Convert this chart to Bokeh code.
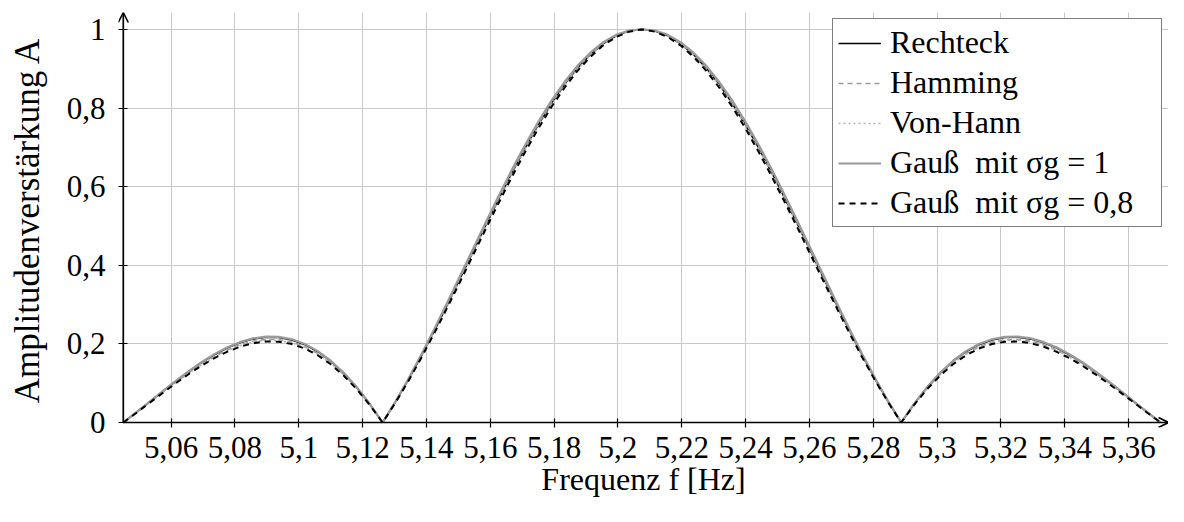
from bokeh.plotting import figure
from bokeh.models import (Range1d, FixedTicker, CustomJSTickFormatter, Legend,
                          LegendItem, Arrow, OpenHead)
from bokeh.embed import file_html
from bokeh.resources import INLINE

# ---------------- data ----------------
freq = [5.04500, 5.04906, 5.05313, 5.05719, 5.06125, 5.06531, 5.06938, 5.07344,
        5.07750, 5.08156, 5.08563, 5.08969, 5.09375, 5.09781, 5.10188, 5.10594,
        5.11000, 5.11406, 5.11813, 5.12219, 5.12625, 5.13031, 5.13438, 5.13844,
        5.14250, 5.14656, 5.15063, 5.15469, 5.15875, 5.16281, 5.16688, 5.17094,
        5.17500, 5.17906, 5.18313, 5.18719, 5.19125, 5.19531, 5.19938, 5.20344,
        5.20750, 5.21156, 5.21563, 5.21969, 5.22375, 5.22781, 5.23188, 5.23594,
        5.24000, 5.24406, 5.24813, 5.25219, 5.25625, 5.26031, 5.26438, 5.26844,
        5.27250, 5.27656, 5.28063, 5.28469, 5.28875, 5.29281, 5.29688, 5.30094,
        5.30500, 5.30906, 5.31313, 5.31719, 5.32125, 5.32531, 5.32938, 5.33344,
        5.33750, 5.34156, 5.34563, 5.34969, 5.35375, 5.35781, 5.36188, 5.36594,
        5.37000]

rechteck = [
    0.0, 0.0255, 0.0518, 0.0781, 0.1039, 0.1286, 0.1515, 0.1719, 0.1892, 0.2028,
    0.2122, 0.2168, 0.2162, 0.2101, 0.1981, 0.1801, 0.1559, 0.1257, 0.0894, 0.0474,
    0.0, 0.0524, 0.1093, 0.1700, 0.2339, 0.3001, 0.3679, 0.4363, 0.5046, 0.5716,
    0.6366, 0.6986, 0.7568, 0.8103, 0.8584, 0.9003, 0.9355, 0.9634, 0.9836, 0.9959,
    1.0,
    0.9959, 0.9836, 0.9634, 0.9355, 0.9003, 0.8584, 0.8103, 0.7568, 0.6986, 0.6366,
    0.5716, 0.5046, 0.4363, 0.3679, 0.3001, 0.2339, 0.1700, 0.1093, 0.0524, 0.0,
    0.0474, 0.0894, 0.1257, 0.1559, 0.1801, 0.1981, 0.2101, 0.2162, 0.2168, 0.2122,
    0.2028, 0.1892, 0.1719, 0.1515, 0.1286, 0.1039, 0.0781, 0.0518, 0.0255, 0.0]

hamming = [
    0.0, 0.0249, 0.0505, 0.0762, 0.1013, 0.1254, 0.1477, 0.1676, 0.1845, 0.1977,
    0.2069, 0.2114, 0.2108, 0.2048, 0.1931, 0.1756, 0.1520, 0.1226, 0.0872, 0.0462,
    0.0, 0.0527, 0.1099, 0.1709, 0.2351, 0.3015, 0.3695, 0.4381, 0.5065, 0.5736,
    0.6386, 0.7006, 0.7587, 0.8121, 0.8600, 0.9017, 0.9367, 0.9643, 0.9842, 0.9962,
    1.0,
    0.9962, 0.9842, 0.9643, 0.9367, 0.9017, 0.8600, 0.8121, 0.7587, 0.7006, 0.6386,
    0.5736, 0.5065, 0.4381, 0.3695, 0.3015, 0.2351, 0.1709, 0.1099, 0.0527, 0.0,
    0.0462, 0.0872, 0.1226, 0.1520, 0.1756, 0.1931, 0.2048, 0.2108, 0.2114, 0.2069,
    0.1977, 0.1845, 0.1676, 0.1477, 0.1254, 0.1013, 0.0762, 0.0505, 0.0249, 0.0]

von_hann = [
    0.0, 0.0246, 0.0500, 0.0754, 0.1003, 0.1241, 0.1462, 0.1659, 0.1826, 0.1957,
    0.2048, 0.2092, 0.2086, 0.2027, 0.1912, 0.1738, 0.1504, 0.1213, 0.0863, 0.0457,
    0.0, 0.0519, 0.1084, 0.1686, 0.2321, 0.2980, 0.3655, 0.4336, 0.5017, 0.5686,
    0.6336, 0.6956, 0.7539, 0.8076, 0.8560, 0.8982, 0.9337, 0.9620, 0.9827, 0.9954,
    1.0,
    0.9954, 0.9827, 0.9620, 0.9337, 0.8982, 0.8560, 0.8076, 0.7539, 0.6956, 0.6336,
    0.5686, 0.5017, 0.4336, 0.3655, 0.2980, 0.2321, 0.1686, 0.1084, 0.0519, 0.0,
    0.0457, 0.0863, 0.1213, 0.1504, 0.1738, 0.1912, 0.2027, 0.2086, 0.2092, 0.2048,
    0.1957, 0.1826, 0.1659, 0.1462, 0.1241, 0.1003, 0.0754, 0.0500, 0.0246, 0.0]

gauss_1 = [
    0.0, 0.0257, 0.0522, 0.0787, 0.1047, 0.1296, 0.1527, 0.1733, 0.1907, 0.2044,
    0.2139, 0.2185, 0.2179, 0.2118, 0.1997, 0.1815, 0.1571, 0.1267, 0.0901, 0.0478,
    0.0, 0.0537, 0.1118, 0.1736, 0.2386, 0.3058, 0.3744, 0.4434, 0.5122, 0.5795,
    0.6446, 0.7065, 0.7644, 0.8174, 0.8649, 0.9060, 0.9402, 0.9670, 0.9861, 0.9972,
    1.0,
    0.9972, 0.9861, 0.9670, 0.9402, 0.9060, 0.8649, 0.8174, 0.7644, 0.7065, 0.6446,
    0.5795, 0.5122, 0.4434, 0.3744, 0.3058, 0.2386, 0.1736, 0.1118, 0.0537, 0.0,
    0.0478, 0.0901, 0.1267, 0.1571, 0.1815, 0.1997, 0.2118, 0.2179, 0.2185, 0.2139,
    0.2044, 0.1907, 0.1733, 0.1527, 0.1296, 0.1047, 0.0787, 0.0522, 0.0257, 0.0]

gauss_08 = [
    0.0, 0.0242, 0.0492, 0.0742, 0.0987, 0.1222, 0.1439, 0.1633, 0.1797, 0.1927,
    0.2016, 0.2060, 0.2054, 0.1996, 0.1882, 0.1711, 0.1481, 0.1194, 0.0849, 0.0450,
    0.0, 0.0508, 0.1062, 0.1655, 0.2280, 0.2930, 0.3598, 0.4274, 0.4951, 0.5617,
    0.6266, 0.6887, 0.7473, 0.8014, 0.8503, 0.8932, 0.9296, 0.9589, 0.9805, 0.9943,
    1.0,
    0.9943, 0.9805, 0.9589, 0.9296, 0.8932, 0.8503, 0.8014, 0.7473, 0.6887, 0.6266,
    0.5617, 0.4951, 0.4274, 0.3598, 0.2930, 0.2280, 0.1655, 0.1062, 0.0508, 0.0,
    0.0450, 0.0849, 0.1194, 0.1481, 0.1711, 0.1882, 0.1996, 0.2054, 0.2060, 0.2016,
    0.1927, 0.1797, 0.1633, 0.1439, 0.1222, 0.0987, 0.0742, 0.0492, 0.0242, 0.0]

x_ticks = [5.06, 5.08, 5.10, 5.12, 5.14, 5.16, 5.18, 5.20, 5.22, 5.24, 5.26, 5.28,
           5.30, 5.32, 5.34, 5.36]
y_ticks = [0.0, 0.2, 0.4, 0.6, 0.8, 1.0]

series_labels = ["Rechteck", "Hamming", "Von-Hann", "Gauß  mit σg = 1", "Gauß  mit σg = 0,8"]
x_label = "Frequenz f [Hz]"
y_label = "Amplitudenverstärkung A"

# ---------------- figure ----------------
FONT = "Liberation Serif"
X_AXIS, Y_AXIS = 5.045, 0.0     # where the two axis lines cross
XR0, XR1 = 5.0435, 5.3725       # plotted x range (small room left of the y axis)
YR0, YR1 = -0.0127, 1.043       # plotted y range (small room below the x axis)

p = figure(width=1168, height=506, output_backend="svg", toolbar_location=None,
           x_range=Range1d(XR0, XR1), y_range=Range1d(YR0, YR1),
           min_border_left=118, min_border_right=0, min_border_top=12,
           min_border_bottom=79)
p.outline_line_color = None
p.background_fill_color = "white"
p.border_fill_color = "white"

fmt = CustomJSTickFormatter(code=r"""
let s = tick.toFixed(2);
s = s.replace(/0+$/, '').replace(/\.$/, '');
return s.replace('.', ',');
""")

for ax, ticks in ((p.xaxis[0], x_ticks), (p.yaxis[0], y_ticks)):
    ax.ticker = FixedTicker(ticks=ticks)
    ax.formatter = fmt
    ax.minor_tick_line_color = None
    ax.major_tick_in = 9          # ticks cross the axis line drawn 5 px inside
    ax.major_tick_out = 0
    ax.major_tick_line_color = "black"
    ax.major_tick_line_width = 1.2
    ax.axis_line_color = None
    ax.major_label_text_font = FONT
    ax.major_label_text_font_size = "31px"
    ax.major_label_text_color = "black"
    ax.axis_label_text_font = FONT
    ax.axis_label_text_font_style = "normal"
    ax.axis_label_text_color = "black"

p.xaxis.axis_label = x_label
p.yaxis.axis_label = y_label
p.xaxis.axis_label_text_font_size = "32px"
p.yaxis.axis_label_text_font_size = "35px"
p.xaxis.major_label_standoff = 9
p.xaxis.axis_label_standoff = 0
p.yaxis.major_label_standoff = 13
p.yaxis.axis_label_standoff = 17
p.yaxis.major_label_orientation = "horizontal"

for g in (p.xgrid[0], p.ygrid[0]):
    g.grid_line_color = "#c8c8c8"
    g.grid_line_width = 1

# ---------------- curves ----------------
r1 = p.line(freq, rechteck, line_color="black", line_width=1.6)
r2 = p.line(freq, hamming, line_color="#9a9a9a", line_width=1.6, line_dash="5 4")
r3 = p.line(freq, von_hann, line_color="#b4b4b4", line_width=1.6, line_dash="2 3")
r4 = p.line(freq, gauss_1, line_color="#9a9a9a", line_width=2.2)
r5 = p.line(freq, gauss_08, line_color="black", line_width=2.0, line_dash="6 5")

# axis lines with arrow heads
p.add_layout(Arrow(end=OpenHead(size=10, line_width=1.6, line_color="black"),
                   x_start=X_AXIS, y_start=Y_AXIS, x_end=XR1, y_end=Y_AXIS,
                   line_color="black", line_width=1.7))
p.add_layout(Arrow(end=OpenHead(size=10, line_width=1.6, line_color="black"),
                   x_start=X_AXIS, y_start=Y_AXIS, x_end=X_AXIS, y_end=YR1,
                   line_color="black", line_width=1.7))

legend = Legend(
    items=[LegendItem(label=series_labels[i], renderers=[r])
           for i, r in enumerate([r1, r2, r3, r4, r5])],
    location="top_right", margin=6, padding=5, spacing=3,
    glyph_width=43, glyph_height=36, label_height=36, label_width=266,
    label_standoff=9, label_text_font=FONT, label_text_font_size="32px",
    label_text_color="black", border_line_color="black", border_line_width=1.5,
    background_fill_color="white", background_fill_alpha=1.0)
p.add_layout(legend)

open("out.html", "w").write(file_html(p, INLINE))
